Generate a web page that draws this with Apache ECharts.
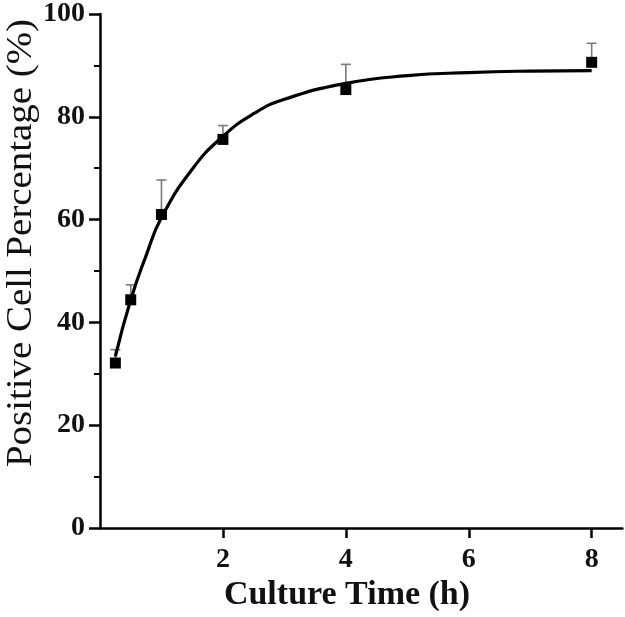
<!DOCTYPE html>
<html>
<head>
<meta charset="utf-8">
<script src="https://cdn.jsdelivr.net/npm/echarts@6/dist/echarts.min.js"></script>
<style>
html,body{margin:0;padding:0;background:#fff;}
#chart{width:625px;height:617px;}
</style>
</head>
<body>
<div id="chart"></div>
<script>
const timeH = [0.25, 0.5, 1, 2, 4, 8];
const meanPct = [32.1, 44.4, 61.0, 75.6, 85.3, 90.6];
const sdPct = [2.6, 2.9, 6.7, 2.7, 4.9, 3.7];
// Fitted curve
const fitT = [0.25, 0.5, 0.75, 1, 1.5, 2, 2.5, 3, 4, 5, 6, 7, 8];
const fitPct = [33.4, 44.4, 53.0, 60.4, 69.8, 76.2, 80.6, 83.4, 86.5, 88.0, 88.6, 88.9, 89.0];
const xTicks = [2, 4, 6, 8];
const xTitle = 'Culture Time (h)';
const yTitle = 'Positive Cell Percentage (%)';

const FONT = '"Liberation Serif", "Times New Roman", serif';
const chart = echarts.init(document.getElementById('chart'), null, {renderer: 'canvas'});

const points = timeH.map((t, i) => [t, meanPct[i]]);
const errData = timeH.map((t, i) => [t, meanPct[i], meanPct[i] + sdPct[i]]);
const fitData = fitT.map((t, i) => [t, fitPct[i]]);

chart.setOption({
  animation: false,
  backgroundColor: '#fff',
  grid: {left: 100, right: 2.6, top: 10.5, bottom: 89, containLabel: false},
  xAxis: {
    type: 'value', min: 0, max: 8.5, interval: 2,
    splitLine: {show: false},
    axisLine: {lineStyle: {color: '#000', width: 2.5}},
    axisTick: {show: true, length: 10, inside: false, lineStyle: {color: '#000', width: 2.5}, customValues: xTicks},
    axisLabel: {customValues: xTicks, margin: 18, color: '#111', fontFamily: FONT, fontWeight: 'bold', fontSize: 28}
  },
  yAxis: {
    type: 'value', min: 0, max: 100, interval: 20,
    splitLine: {show: false},
    axisLine: {lineStyle: {color: '#000', width: 2.5}},
    axisTick: {length: 11, lineStyle: {color: '#000', width: 2.5}},
    minorTick: {show: true, splitNumber: 2, length: 6, lineStyle: {color: '#000', width: 2}},
    axisLabel: {margin: 15, color: '#111', fontFamily: FONT, fontWeight: 'bold', fontSize: 28}
  },
  graphic: [
    {type: 'text', x: 22, y: 243, rotation: Math.PI / 2, scaleX: 1.08, scaleY: 1,
     style: {text: yTitle, font: 'normal 36px ' + FONT, fill: '#111', align: 'center', verticalAlign: 'middle'}},
    {type: 'text', x: 347, y: 595,
     style: {text: xTitle, font: 'bold 34px ' + FONT, fill: '#111', align: 'center', verticalAlign: 'middle'}}
  ],
  series: [
    {
      type: 'custom', z: 1,
      data: errData,
      renderItem: function (params, api) {
        const base = api.coord([api.value(0), api.value(1)]);
        const top = api.coord([api.value(0), api.value(2)]);
        const style = {stroke: '#7a7a7a', lineWidth: 1.6};
        return {type: 'group', children: [
          {type: 'line', shape: {x1: base[0], y1: base[1], x2: top[0], y2: top[1]}, style: style},
          {type: 'line', shape: {x1: top[0] - 5, y1: top[1], x2: top[0] + 5, y2: top[1]}, style: style}
        ]};
      }
    },
    {
      type: 'line', z: 2, data: fitData, smooth: 0.5,
      showSymbol: false, symbol: 'none',
      lineStyle: {color: '#000', width: 3.2}
    },
    {
      type: 'scatter', z: 3, data: points, symbol: 'rect', symbolSize: 11,
      itemStyle: {color: '#000', opacity: 1}
    }
  ]
});
</script>
</body>
</html>
